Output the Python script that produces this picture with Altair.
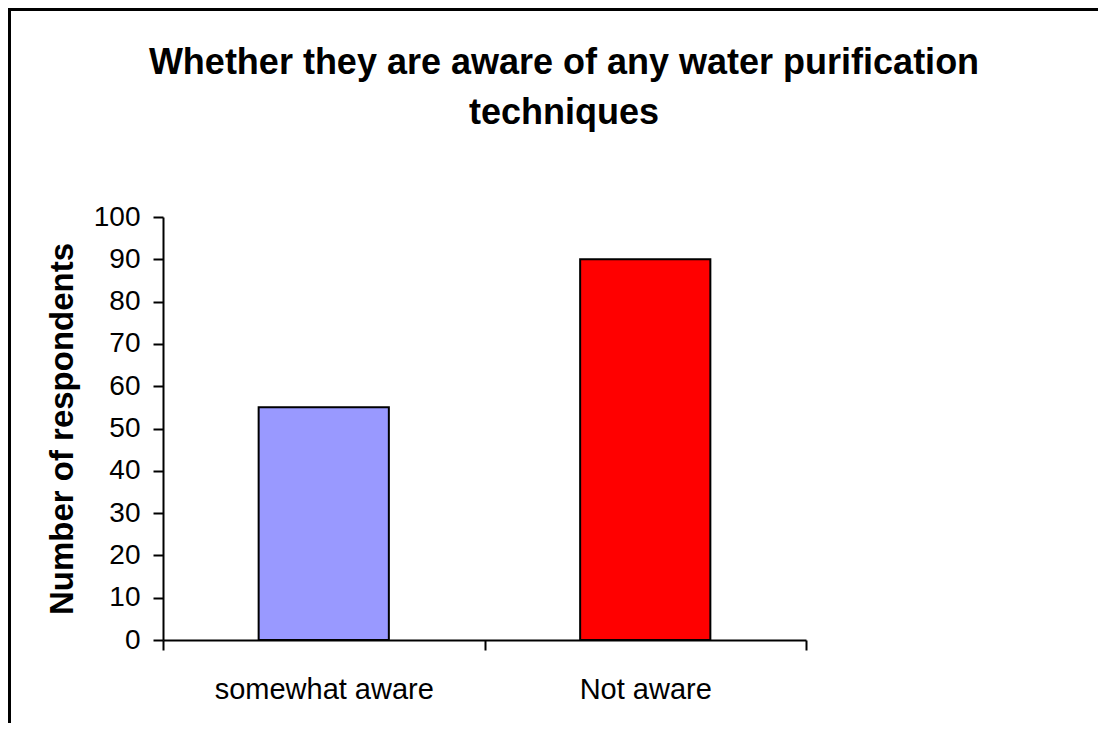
import altair as alt
import pandas as pd

categories = ["somewhat aware", "Not aware"]
respondents = [55, 90]
bar_colors = ["#9999FF", "#FF0000"]
y_ticks = [0, 10, 20, 30, 40, 50, 60, 70, 80, 90, 100]
title_lines = ["Whether they are aware of any water purification", "techniques"]
y_title = "Number of respondents"

FONT = "Arial, Liberation Sans, sans-serif"

df = pd.DataFrame({"category": categories, "respondents": respondents, "color": bar_colors})

bars = alt.Chart(df).mark_bar(
    width=alt.RelativeBandSize(0.405), stroke="black", strokeWidth=2
).encode(
    x=alt.X(
        "category:N",
        sort=categories,
        scale=alt.Scale(paddingInner=0, paddingOuter=0),
        axis=alt.Axis(
            title=None, labelAngle=0, labelFont=FONT, labelFontSize=29,
            labelColor="black", labelPadding=25, labelLimit=0, tickSize=10,
            tickWidth=2, tickColor="black", tickBand="extent",
            domainColor="black", domainWidth=2,
        ),
    ),
    y=alt.Y(
        "respondents:Q",
        scale=alt.Scale(domain=[0, 100]),
        axis=alt.Axis(
            values=y_ticks, title=y_title, titleFont=FONT, titleFontSize=33,
            titleFontWeight="bold", titleColor="black", titleX=-84, titleY=211.5,
            labelFont=FONT, labelFontSize=28, labelColor="black", labelPadding=13,
            tickSize=10, tickWidth=2, tickColor="black", grid=False,
            domainColor="black", domainWidth=2,
        ),
    ),
    color=alt.Color("color:N", scale=None),
)

frame = alt.Chart(pd.DataFrame({"f": [0]})).mark_rect(
    fill="white", fillOpacity=0, stroke="black", strokeWidth=3
).encode(
    x=alt.value(-153.5), x2=alt.value(1500), y=alt.value(-207.5), y2=alt.value(1500)
)

chart = alt.layer(frame, bars).properties(
    width=643,
    height=423,
    padding={"left": 155, "top": 209, "right": 292, "bottom": 83},
    autosize=alt.AutoSizeParams(type="none"),
    title=alt.TitleParams(
        text=title_lines, font=FONT, fontSize=36, fontWeight="bold", color="black",
        anchor="middle", dx=79.5, lineHeight=50, offset=0, dy=124,
    ),
).configure_view(strokeWidth=0)

chart.save("out.html", embed_options={"renderer": "svg", "actions": False})
